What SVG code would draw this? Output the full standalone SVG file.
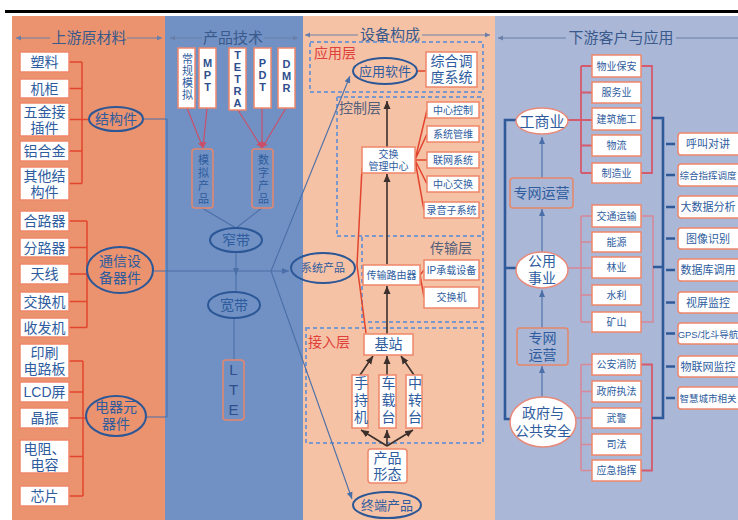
<svg xmlns="http://www.w3.org/2000/svg" width="738" height="520" viewBox="0 0 738 520">
<style>
text{font-family:"Liberation Sans","Noto Sans CJK SC",sans-serif;fill:#2E5C9E;text-anchor:middle}
.ttl{font-size:15px;fill:#3A5A8C}
.b14{font-size:14px}
.b10{font-size:10px}
.b11{font-size:11px}
.b13{font-size:13px}
.vt{writing-mode:vertical-rl;text-orientation:upright}
.lat{font-family:"Liberation Sans",Arial,sans-serif;font-weight:bold;font-size:11px;fill:#2E4E8E}
.box{fill:#fff;stroke:#F0876A;stroke-width:1.5}
.obox{fill:none;stroke:#E8866A;stroke-width:1.5}
.ell{fill:none;stroke:#2B5797;stroke-width:2}
.wel{fill:#fff;stroke:#E88A7A;stroke-width:1.5}
.red{fill:none;stroke:#E2452E;stroke-width:1.5}
.pink{fill:none;stroke:#D45A6E;stroke-width:1.8}
.pk2{fill:none;stroke:#D88898;stroke-width:1.5}
.thin{fill:none;stroke:#4A6FA8;stroke-width:1.1}
.dk{fill:none;stroke:#3C302C;stroke-width:1.6}
.bl{fill:none;stroke:#2F5A9A;stroke-width:2.6}
.dash{fill:none;stroke:#7A98CC;stroke-width:2;stroke-dasharray:4 3}
.tl{fill:none;stroke:#6A7FA8;stroke-width:1}
.rl{fill:none;stroke:#C8506A;stroke-width:1.2}
.lay{font-size:14px;text-anchor:start}
</style>
<defs>
<marker id="aB" markerWidth="8" markerHeight="8" refX="7" refY="4" orient="auto" markerUnits="userSpaceOnUse"><path d="M0,1 L7,4 L0,7 Z" fill="#4A6FA8"/></marker>
<marker id="aD" markerWidth="9" markerHeight="9" refX="8" refY="4.5" orient="auto" markerUnits="userSpaceOnUse"><path d="M0,1 L8,4.5 L0,8 Z" fill="#3C302C"/></marker>
<marker id="aR" markerWidth="7" markerHeight="7" refX="6" refY="3.5" orient="auto" markerUnits="userSpaceOnUse"><path d="M0,0.5 L6,3.5 L0,6.5 Z" fill="#C8506A"/></marker>
<marker id="aT" markerWidth="6" markerHeight="6" refX="5" refY="3" orient="auto" markerUnits="userSpaceOnUse"><path d="M0,0.5 L5,3 L0,5.5 Z" fill="#6A7FA8"/></marker>
</defs>

<!-- backgrounds -->
<rect x="5" y="10" width="733" height="3" fill="#000"/>
<rect x="12" y="16" width="153" height="504" fill="#EA936E"/>
<rect x="165" y="16" width="138" height="504" fill="#7191C4"/>
<rect x="303" y="16" width="192" height="504" fill="#F6C2A6"/>
<rect x="495" y="16" width="243" height="504" fill="#AAB7D7"/>

<!-- titles -->
<g id="titles">
<text class="ttl" x="89" y="43">上游原材料</text>
<text class="ttl" x="233" y="43">产品技术</text>
<text class="ttl" x="390" y="40">设备构成</text>
<text class="ttl" x="621" y="43">下游客户与应用</text>
<path class="tl" d="M50,38 L16,38" marker-end="url(#aT)"/>
<path class="tl" d="M127,38 L162,38" marker-end="url(#aT)"/>
<path class="tl" d="M202,38 L170,38" marker-end="url(#aT)"/>
<path class="tl" d="M264,38 L298,38" marker-end="url(#aT)"/>
<path class="tl" d="M358,35 L305,35" marker-end="url(#aT)"/>
<path class="tl" d="M422,35 L490,35" marker-end="url(#aT)"/>
<path class="tl" d="M566,38 L498,38" marker-end="url(#aT)"/>
<path class="tl" d="M676,38 L738,38"/>
</g>

<!-- dashed layers -->
<g id="layers">
<rect class="dash" x="310" y="42" width="173" height="50"/>
<text class="lay" x="314" y="58" style="fill:#E0403A">应用层</text>
<path class="dash" d="M337,97 H483 V237 M337,97 V237"/>
<text class="lay" x="339" y="113" style="fill:#55607A">控制层</text>
<path class="dash" d="M337,236 H483 V322 H362 V236"/>
<text class="lay" x="430" y="253" style="fill:#55607A">传输层</text>
<rect class="dash" x="306" y="328" width="177" height="115"/>
<text class="lay" x="308" y="347" style="fill:#E0403A">接入层</text>
</g>

<!-- connectors -->
<g id="connectors">
<path class="red" d="M69,62 H82 M69,88.5 H82 M69,119.5 H89 M69,151 H82 M69,183.5 H82 M82,62 V183.5"/>
<path class="red" d="M69,221 H87 M69,247.5 H87 M69,274 H87 M69,301.5 H87 M69,327.5 H87 M87,221 V327.5"/>
<path class="red" d="M69,361 H83 M69,392 H83 M69,418 H86 M69,456.5 H83 M69,496 H83 M83,361 V496"/>
<path class="thin" d="M143,119 H167 M153,271 H167 M146,417 H167 M167,119 V417"/>
<path class="thin" d="M167,271 H289" marker-end="url(#aB)"/>
<path class="thin" d="M271,271 L350,76" marker-end="url(#aB)"/>
<path class="thin" d="M271,271 L352,499" marker-end="url(#aB)"/>
<path class="rl" d="M187,108 L203,148" marker-end="url(#aR)"/>
<path class="rl" d="M207,108 L203,148" marker-end="url(#aR)"/>
<path class="rl" d="M238,110 L262,148" marker-end="url(#aR)"/>
<path class="rl" d="M262,108 L262,148" marker-end="url(#aR)"/>
<path class="rl" d="M286,108 L262,148" marker-end="url(#aR)"/>
<path class="thin" d="M202,208 L236,228 L262,208"/>
<path class="thin" d="M236,252 V275" marker-end="url(#aB)"/>
<path class="thin" d="M236,274 V292 M234,318 V360"/>
<path class="red" d="M418,71 H426"/>
<path class="dk" d="M387,147 V101" marker-end="url(#aD)"/>
<path class="dk" d="M387,264 V174" marker-end="url(#aD)"/>
<path class="dk" d="M387,334 V286" marker-end="url(#aD)"/>
<path class="red" d="M415,160 L427,110 M415,160 L427,134 M415,160 H427 M415,160 L427,184 M415,160 L424,210"/>
<path class="red" d="M420,275 L424,270 M420,275 L424,297"/>
<path class="red" d="M362,168 L357,265 L366,333"/>
<path class="dk" d="M360,375 L373,356" marker-end="url(#aD)"/>
<path class="dk" d="M387,375 V356" marker-end="url(#aD)"/>
<path class="dk" d="M414,375 L401,356" marker-end="url(#aD)"/>
<path class="dk" d="M387,446 L361,430" marker-end="url(#aD)"/>
<path class="dk" d="M387,446 V430" marker-end="url(#aD)"/>
<path class="dk" d="M387,446 L413,430" marker-end="url(#aD)"/>
<path class="thin" d="M542,178 V137" marker-end="url(#aB)"/>
<path class="thin" d="M542,252 V209" marker-end="url(#aB)"/>
<path class="thin" d="M542,328 V290" marker-end="url(#aB)"/>
<path class="thin" d="M542,397 V366" marker-end="url(#aB)"/>
<path class="bl" d="M516,120 H505 V419 H510 M505,268 H516"/>
<path class="pink" d="M568,120 H592 M581,66 V173 M581,66 H592 M581,92.5 H592 M581,145.5 H592 M581,173 H592 M641,66 H652 V173 H641"/>
<path class="pk2" d="M568,268 H592 M581,216 V322 M581,216 H592 M581,242 H592 M581,295 H592 M581,322 H592 M641,216 H653 V322 H641"/>
<path class="pk2" d="M576,418 H592 M581,364.5 V470.5 M581,364.5 H592 M581,391.5 H592 M581,444.5 H592 M581,470.5 H592"/>
<path class="pink" d="M641,364.5 H652 V470.5 H641"/>
<path class="bl" d="M652,118 H663 V418 H652 M653,267 H663"/>
<path class="bl" d="M666,144 H675 M666,175 H675 M666,207 H675 M666,238.5 H675 M666,270 H675 M666,302.5 H675 M666,333.5 H675 M666,366.5 H675 M666,398 H675"/>
</g>

<!-- col1 nodes -->
<g id="n-suliao"><rect class="box" x="20" y="52" width="49" height="20"/><text class="b14" x="44.5" y="67">塑料</text></g>
<g id="n-jigui"><rect class="box" x="20" y="79" width="49" height="19"/><text class="b14" x="44.5" y="93.5">机柜</text></g>
<g id="n-wujin"><rect class="box" x="20" y="103" width="49" height="33"/><text class="b14" x="44.5" y="117">五金接<tspan x="44.5" dy="16">插件</tspan></text></g>
<g id="n-lvhejin"><rect class="box" x="20" y="141" width="49" height="20"/><text class="b14" x="44.5" y="156">铝合金</text></g>
<g id="n-qita"><rect class="box" x="20" y="167" width="49" height="33"/><text class="b14" x="44.5" y="181">其他结<tspan x="44.5" dy="16">构件</tspan></text></g>
<g id="n-helu"><rect class="box" x="20" y="211" width="49" height="20"/><text class="b14" x="44.5" y="226">合路器</text></g>
<g id="n-fenlu"><rect class="box" x="20" y="238" width="49" height="19"/><text class="b14" x="44.5" y="252.5">分路器</text></g>
<g id="n-tianxian"><rect class="box" x="20" y="264" width="49" height="20"/><text class="b14" x="44.5" y="279">天线</text></g>
<g id="n-jiaohuanji1"><rect class="box" x="20" y="292" width="49" height="19"/><text class="b14" x="44.5" y="306.5">交换机</text></g>
<g id="n-shoufa"><rect class="box" x="20" y="318" width="49" height="19"/><text class="b14" x="44.5" y="332.5">收发机</text></g>
<g id="n-pcb"><rect class="box" x="20" y="344" width="49" height="34"/><text class="b14" x="44.5" y="358">印刷<tspan x="44.5" dy="16">电路板</tspan></text></g>
<g id="n-lcd"><rect class="box" x="20" y="382" width="49" height="20"/><text class="b14" x="44.5" y="397">LCD屏</text></g>
<g id="n-jingzhen"><rect class="box" x="20" y="408" width="49" height="20"/><text class="b14" x="44.5" y="423">晶振</text></g>
<g id="n-dianzu"><rect class="box" x="20" y="440" width="49" height="33"/><text class="b14" x="44.5" y="454">电阻、<tspan x="44.5" dy="16">电容</tspan></text></g>
<g id="n-xinpian"><rect class="box" x="20" y="486" width="49" height="20"/><text class="b14" x="44.5" y="501">芯片</text></g>
<g id="n-jiegou"><ellipse class="ell" cx="116" cy="119" rx="27" ry="12"/><text class="b14" x="116" y="124">结构件</text></g>
<g id="n-tongxin"><ellipse class="ell" cx="120" cy="270" rx="33" ry="23"/><text class="b14" x="120" y="266">通信设<tspan x="120" dy="17">备器件</tspan></text></g>
<g id="n-dianqi"><ellipse class="ell" cx="116" cy="416" rx="30" ry="20"/><text class="b14" x="116" y="412">电器元<tspan x="116" dy="17">器件</tspan></text></g>

<!-- col2 nodes -->
<g id="n-changgui"><rect class="box" x="178" y="48" width="17" height="60"/><text class="b11 vt" x="186.5" y="77" style="letter-spacing:1px">常规模拟</text></g>
<g id="n-mpt"><rect class="box" x="199" y="48" width="17" height="60"/><text class="lat vt" x="207.5" y="75">MPT</text></g>
<g id="n-tetra"><rect class="box" x="229" y="48" width="17" height="62"/><text class="lat vt" x="237.5" y="79">TETRA</text></g>
<g id="n-pdt"><rect class="box" x="254" y="48" width="17" height="60"/><text class="lat vt" x="262.5" y="75">PDT</text></g>
<g id="n-dmr"><rect class="box" x="278" y="48" width="17" height="60"/><text class="lat vt" x="286.5" y="76">DMR</text></g>
<g id="n-moni"><rect class="obox" x="192" y="149" width="21" height="59" rx="3"/><text class="b11 vt" x="202.5" y="180" style="letter-spacing:2px">模拟产品</text></g>
<g id="n-shuzi"><rect class="obox" x="252" y="149" width="21" height="59" rx="3"/><text class="b11 vt" x="262.5" y="180" style="letter-spacing:2px">数字产品</text></g>
<g id="n-zhaidai"><ellipse class="ell" cx="236" cy="240" rx="26" ry="12"/><text class="b14" x="236" y="245">窄带</text></g>
<g id="n-kuandai"><ellipse class="ell" cx="234" cy="305" rx="26" ry="13"/><text class="b14" x="234" y="310">宽带</text></g>
<g id="n-lte"><rect class="obox" x="223" y="360" width="21" height="60" rx="3"/><text class="lat vt" style="font-size:15px;font-weight:normal;letter-spacing:3px" x="233.5" y="391">LTE</text></g>

<!-- col3 nodes -->
<g id="n-yingyong"><ellipse class="ell" cx="385" cy="71" rx="32" ry="13"/><text class="b13" x="385" y="76">应用软件</text></g>
<g id="n-zonghe"><rect class="box" x="426" y="52" width="51" height="35"/><text class="b14" x="451.5" y="66">综合调<tspan x="451.5" dy="16">度系统</tspan></text></g>
<g id="n-jhgl"><rect class="box" x="362" y="147" width="53" height="26"/><text class="b10" x="388.5" y="158">交换<tspan x="388.5" dy="12">管理中心</tspan></text></g>
<g id="n-zxkz"><rect class="box" x="427" y="102" width="52" height="16"/><text class="b10" x="453" y="114">中心控制</text></g>
<g id="n-xtgw"><rect class="box" x="427" y="126" width="52" height="16"/><text class="b10" x="453" y="138">系统管维</text></g>
<g id="n-lwxt"><rect class="box" x="427" y="152" width="52" height="16"/><text class="b10" x="453" y="164">联网系统</text></g>
<g id="n-zxjh"><rect class="box" x="427" y="176" width="52" height="16"/><text class="b10" x="453" y="188">中心交换</text></g>
<g id="n-lyzx"><rect class="box" x="424" y="202" width="55" height="16"/><text class="b10" x="451.5" y="214">录音子系统</text></g>
<g id="n-xitong"><ellipse class="ell" cx="323" cy="268" rx="32" ry="15"/><text class="b11" x="323" y="272">系统产品</text></g>
<g id="n-csly"><rect class="box" x="363" y="265" width="57" height="20"/><text class="b10" x="391.5" y="279">传输路由器</text></g>
<g id="n-ip"><rect class="box" x="424" y="260" width="55" height="20"/><text class="b10" x="451.5" y="274">IP承载设备</text></g>
<g id="n-jhj2"><rect class="box" x="424" y="287" width="55" height="21"/><text class="b10" x="451.5" y="301">交换机</text></g>
<g id="n-jizhan"><rect class="box" x="364" y="334" width="49" height="21"/><text class="b14" x="388.5" y="349">基站</text></g>
<g id="n-shouchi"><rect class="box" x="352" y="375" width="16" height="53"/><text class="b14 vt" x="360" y="401.5" style="letter-spacing:3px">手持机</text></g>
<g id="n-chezai"><rect class="box" x="379" y="375" width="17" height="53"/><text class="b14 vt" x="387.5" y="401.5" style="letter-spacing:3px">车载台</text></g>
<g id="n-zhongzhuan"><rect class="box" x="406" y="375" width="16" height="53"/><text class="b14 vt" x="414" y="401.5" style="letter-spacing:3px">中转台</text></g>
<g id="n-xingtai"><rect class="box" x="368" y="449" width="39" height="34" rx="3"/><text class="b14" x="387.5" y="463">产品<tspan x="387.5" dy="16">形态</tspan></text></g>
<g id="n-zhongduan"><ellipse class="ell" cx="387" cy="505" rx="34" ry="13"/><text class="b13" x="387" y="510">终端产品</text></g>

<!-- col4 nodes -->
<g id="n-gongshang"><ellipse class="wel" cx="542" cy="121" rx="26" ry="13"/><text style="font-size:15px" x="542" y="127">工商业</text></g>
<g id="n-zw1"><rect class="obox" x="510" y="178" width="63" height="30" rx="3"/><text class="b14" x="541.5" y="198">专网运营</text></g>
<g id="n-gongyong"><ellipse class="wel" cx="542" cy="270" rx="26" ry="18"/><text class="b14" x="542" y="266">公用<tspan x="542" dy="17">事业</tspan></text></g>
<g id="n-zw2"><rect class="obox" x="517" y="328" width="51" height="37" rx="3"/><text class="b14" x="542.5" y="343">专网<tspan x="542.5" dy="17">运营</tspan></text></g>
<g id="n-zhengfu"><ellipse class="wel" cx="543" cy="422" rx="33" ry="25"/><text class="b14" x="543" y="418">政府与<tspan x="543" dy="18">公共安全</tspan></text></g>

<g id="n-wuye"><rect class="box" x="592" y="55" width="49" height="22"/><text class="b10" x="616.5" y="70">物业保安</text></g>
<g id="n-fuwu"><rect class="box" x="592" y="82" width="49" height="21"/><text class="b10" x="616.5" y="96">服务业</text></g>
<g id="n-jianzhu"><rect class="box" x="592" y="108" width="49" height="22"/><text class="b10" x="616.5" y="123">建筑施工</text></g>
<g id="n-wuliu"><rect class="box" x="592" y="135" width="49" height="21"/><text class="b10" x="616.5" y="149">物流</text></g>
<g id="n-zhizao"><rect class="box" x="592" y="163" width="49" height="20"/><text class="b10" x="616.5" y="177">制造业</text></g>
<g id="n-jiaotong"><rect class="box" x="592" y="205" width="49" height="22"/><text class="b10" x="616.5" y="220">交通运输</text></g>
<g id="n-nengyuan"><rect class="box" x="592" y="232" width="49" height="20"/><text class="b10" x="616.5" y="246">能源</text></g>
<g id="n-linye"><rect class="box" x="592" y="257" width="49" height="21"/><text class="b10" x="616.5" y="271">林业</text></g>
<g id="n-shuili"><rect class="box" x="592" y="285" width="49" height="20"/><text class="b10" x="616.5" y="299">水利</text></g>
<g id="n-kuangshan"><rect class="box" x="592" y="312" width="49" height="20"/><text class="b10" x="616.5" y="326">矿山</text></g>
<g id="n-gongan"><rect class="box" x="592" y="354" width="49" height="21"/><text class="b10" x="616.5" y="368">公安消防</text></g>
<g id="n-zhifa"><rect class="box" x="592" y="381" width="49" height="21"/><text class="b10" x="616.5" y="395">政府执法</text></g>
<g id="n-wujing"><rect class="box" x="592" y="408" width="49" height="20"/><text class="b10" x="616.5" y="422">武警</text></g>
<g id="n-sifa"><rect class="box" x="592" y="434" width="49" height="21"/><text class="b10" x="616.5" y="448">司法</text></g>
<g id="n-yingji"><rect class="box" x="592" y="460" width="49" height="21"/><text class="b10" x="616.5" y="474">应急指挥</text></g>

<g id="n-hujiao"><rect class="box" x="678" y="133" width="70" height="22" rx="3"/><text class="b11" x="708" y="148">呼叫对讲</text></g>
<g id="n-zhihui"><rect class="box" x="678" y="164" width="70" height="22" rx="3"/><text x="708" y="179" style="font-size:9.5px">综合指挥调度</text></g>
<g id="n-dashuju"><rect class="box" x="678" y="196" width="70" height="22" rx="3"/><text class="b11" x="708" y="211">大数据分析</text></g>
<g id="n-tuxiang"><rect class="box" x="678" y="228" width="70" height="21" rx="3"/><text class="b11" x="708" y="242.5">图像识别</text></g>
<g id="n-shujuku"><rect class="box" x="678" y="259" width="70" height="22" rx="3"/><text class="b11" x="708" y="274">数据库调用</text></g>
<g id="n-shiping"><rect class="box" x="678" y="292" width="70" height="21" rx="3"/><text class="b11" x="708" y="306.5">视屏监控</text></g>
<g id="n-gps"><rect class="box" x="678" y="323" width="70" height="21" rx="3"/><text x="708" y="337.5" style="font-size:9.5px">GPS/北斗导航</text></g>
<g id="n-wulian"><rect class="box" x="678" y="356" width="70" height="21" rx="3"/><text class="b11" x="708" y="370.5">物联网监控</text></g>
<g id="n-zhihui2"><rect class="box" x="678" y="387" width="70" height="22" rx="3"/><text x="708" y="402" style="font-size:9.5px">智慧城市相关</text></g>
</svg>
